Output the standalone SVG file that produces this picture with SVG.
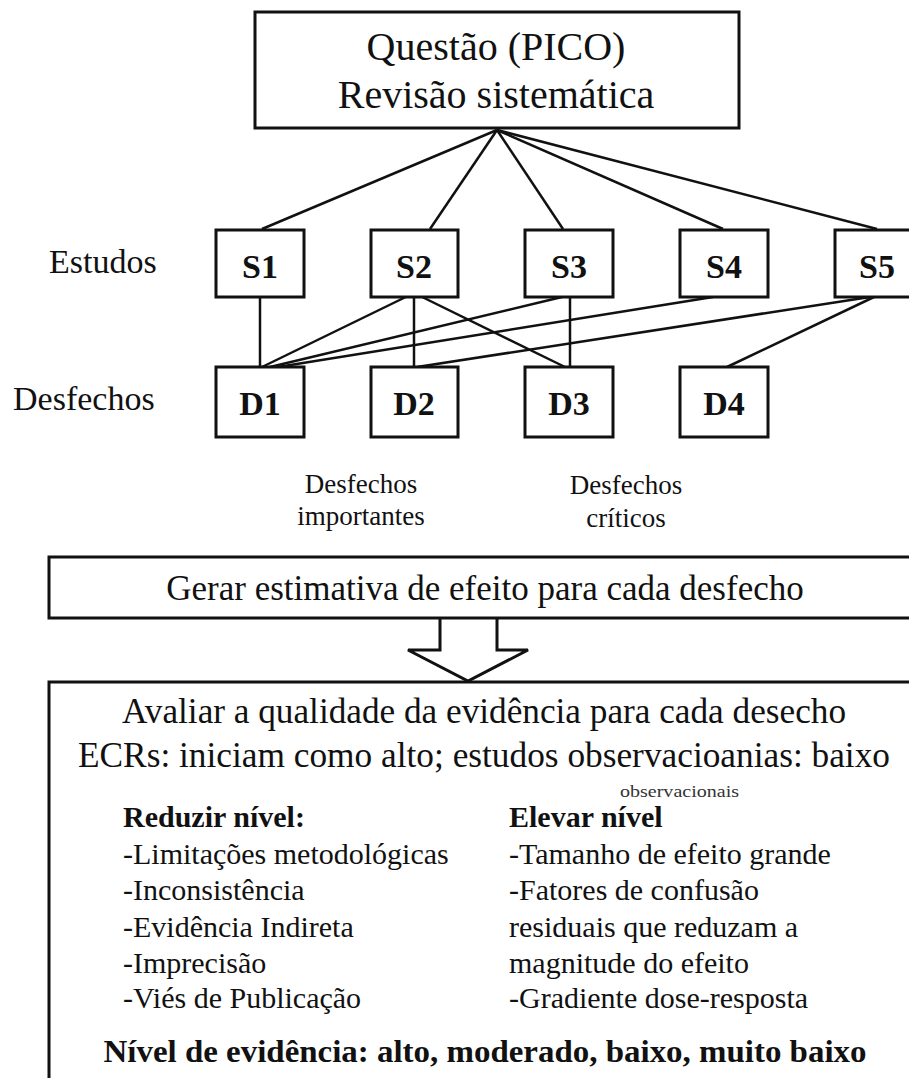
<svg xmlns="http://www.w3.org/2000/svg" width="909" height="1078" viewBox="0 0 909 1078">
<style>
.box{fill:#fff;stroke:#111;stroke-width:3}
.ln{stroke:#111;stroke-width:2.5;fill:none}
</style>
<rect width="909" height="1078" fill="#fff"/>
<g id="connectors">
<line class="ln" x1="497" y1="130" x2="262" y2="229"/>
<line class="ln" x1="497" y1="130" x2="430" y2="229"/>
<line class="ln" x1="497" y1="130" x2="563" y2="229"/>
<line class="ln" x1="497" y1="130" x2="723" y2="229"/>
<line class="ln" x1="497" y1="130" x2="877" y2="229"/>
<line class="ln" x1="260" y1="297" x2="260" y2="367"/>
<line class="ln" x1="414" y1="293" x2="262" y2="367"/>
<line class="ln" x1="414" y1="293" x2="414" y2="367"/>
<line class="ln" x1="414" y1="293" x2="565" y2="367"/>
<line class="ln" x1="562" y1="297" x2="270" y2="367"/>
<line class="ln" x1="570" y1="297" x2="570" y2="367"/>
<line class="ln" x1="713" y1="297" x2="278" y2="367"/>
<line class="ln" x1="870" y1="297" x2="417" y2="367"/>
<line class="ln" x1="874" y1="297" x2="727" y2="367"/>
<polygon class="box" points="440,617 497,617 497,650 528,650 468,681 408,650 440,650"/>
</g>
<g font-family="Liberation Serif" fill="#111">
<g id="pico" text-anchor="middle">
<rect class="box" x="255" y="12" width="484" height="116"/>
<text x="496" y="60" font-size="40">Questão (PICO)</text>
<text x="496" y="108" font-size="40">Revisão sistemática</text>
</g>
<text x="49" y="273" font-size="34">Estudos</text>
<text x="13" y="410" font-size="34">Desfechos</text>
<g font-weight="bold" text-anchor="middle" font-size="34">
<g id="S1"><rect class="box" x="216" y="230" width="88" height="67"/><text x="260" y="278">S1</text></g>
<g id="S2"><rect class="box" x="371" y="230" width="87" height="67"/><text x="414" y="278">S2</text></g>
<g id="S3"><rect class="box" x="525" y="230" width="88" height="67"/><text x="569" y="278">S3</text></g>
<g id="S4"><rect class="box" x="680" y="230" width="88" height="67"/><text x="724" y="278">S4</text></g>
<g id="S5"><rect class="box" x="835" y="230" width="88" height="67"/><text x="877" y="278">S5</text></g>
<g id="D1"><rect class="box" x="216" y="367" width="88" height="70"/><text x="260" y="415">D1</text></g>
<g id="D2"><rect class="box" x="371" y="367" width="87" height="70"/><text x="414" y="415">D2</text></g>
<g id="D3"><rect class="box" x="525" y="367" width="88" height="70"/><text x="569" y="415">D3</text></g>
<g id="D4"><rect class="box" x="680" y="367" width="88" height="70"/><text x="724" y="415">D4</text></g>
</g>
<g id="lbl-importantes" text-anchor="middle" font-size="27">
<text x="361" y="493">Desfechos</text>
<text x="361" y="525">importantes</text>
</g>
<g id="lbl-criticos" text-anchor="middle" font-size="27">
<text x="626" y="494">Desfechos</text>
<text x="626" y="527">críticos</text>
</g>
<g id="gerar">
<rect class="box" x="49" y="557" width="880" height="61"/>
<text x="485" y="600" font-size="35" text-anchor="middle">Gerar estimativa de efeito para cada desfecho</text>
</g>
<g id="avaliar">
<rect class="box" x="49" y="682" width="880" height="420"/>
<text x="484" y="723" font-size="35" text-anchor="middle" textLength="724" lengthAdjust="spacingAndGlyphs">Avaliar a qualidade da evidência para cada desecho</text>
<text x="484" y="767" font-size="35" text-anchor="middle" textLength="812" lengthAdjust="spacingAndGlyphs">ECRs: iniciam como alto; estudos observacioanias: baixo</text>
<text x="620" y="797" font-size="17" fill="#333" textLength="119" lengthAdjust="spacingAndGlyphs">observacionais</text>
<text x="123" y="827" font-size="30" font-weight="bold">Reduzir nível:</text>
<text x="123" y="864" font-size="30">-Limitações metodológicas</text>
<text x="123" y="900" font-size="30">-Inconsistência</text>
<text x="123" y="937" font-size="30">-Evidência Indireta</text>
<text x="123" y="973" font-size="30">-Imprecisão</text>
<text x="123" y="1008" font-size="30">-Viés de Publicação</text>
<text x="509" y="827" font-size="30" font-weight="bold">Elevar nível</text>
<text x="509" y="864" font-size="30">-Tamanho de efeito grande</text>
<text x="509" y="900" font-size="30">-Fatores de confusão</text>
<text x="509" y="937" font-size="30">residuais que reduzam a</text>
<text x="509" y="973" font-size="30">magnitude do efeito</text>
<text x="509" y="1008" font-size="30">-Gradiente dose-resposta</text>
<text x="485" y="1062" font-size="31" font-weight="bold" text-anchor="middle" textLength="763" lengthAdjust="spacingAndGlyphs">Nível de evidência: alto, moderado, baixo, muito baixo</text>
</g>
</g>
</svg>
